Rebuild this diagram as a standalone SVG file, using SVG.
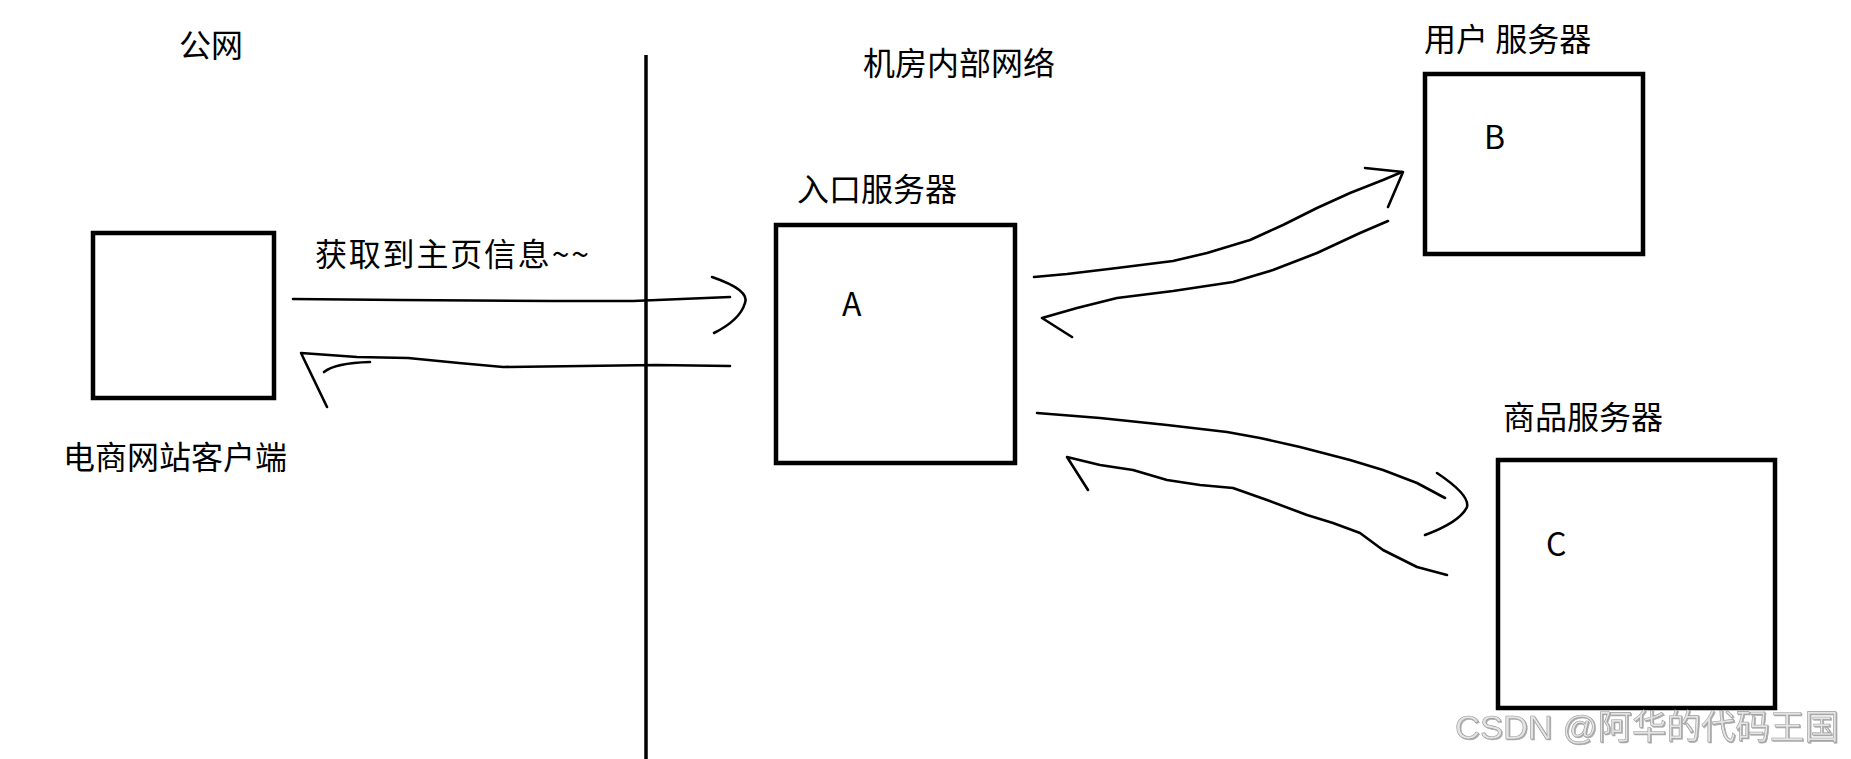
<svg xmlns="http://www.w3.org/2000/svg" width="1851" height="759" viewBox="0 0 1851 759">
<defs>
<style>
.t{font-family:"Noto Sans CJK SC","Liberation Sans",sans-serif;font-size:32px;fill:#000;}
.box{fill:#fff;stroke:#000;stroke-width:4.5;}
.c{fill:none;stroke:#000;stroke-width:2.6;stroke-linecap:round;stroke-linejoin:round;}
.wm{font-family:"Liberation Sans","Noto Sans CJK SC",sans-serif;font-size:34px;fill:#e4e4e4;stroke:#9a9a9a;stroke-width:0.6;}
</style>
<filter id="sh" x="-5%" y="-20%" width="110%" height="140%"><feDropShadow dx="1" dy="1" stdDeviation="0.6" flood-color="#888" flood-opacity="0.7"/></filter>
</defs>
<rect width="1851" height="759" fill="#fff"/>
<g id="divider"><line x1="646" y1="55" x2="646" y2="759" stroke="#000" stroke-width="3.5"/></g>
<g id="label-public"><text class="t" x="179" y="57">公网</text></g>
<g id="label-internal"><text class="t" x="863" y="75">机房内部网络</text></g>
<g id="client"><rect class="box" x="93" y="233" width="181" height="165"/><text class="t" x="63" y="469">电商网站客户端</text></g>
<g id="serverA"><text class="t" x="797" y="201">入口服务器</text><rect class="box" x="776" y="225" width="239" height="238"/><text class="t" x="842" y="316">A</text></g>
<g id="serverB"><text class="t" x="1424" y="51">用户 服务器</text><rect class="box" x="1425" y="74" width="218" height="180"/><text class="t" x="1484" y="149">B</text></g>
<g id="serverC"><text class="t" x="1503" y="429">商品服务器</text><rect class="box" x="1498" y="460" width="277" height="248"/><text class="t" x="1546" y="556">C</text></g>
<g id="connectors">
<text class="t" x="315" y="266" textLength="274">获取到主页信息~~</text>
<path class="c" d="M293,299 L400,300 L551,301 L633,301 L730,297"/>
<path class="c" d="M712,277 Q750,290 745,303 Q740,320 714,333"/>
<path class="c" d="M730,366 L656,365 L503,367 L459,363 L408,358 L357,357 L301,353 L327,407"/>
<path class="c" d="M324,372 Q335,363 370,362"/>
<path class="c" d="M1034,277 L1067,274 L1117,268 L1173,261 L1207,253 L1250,240 L1283,225 L1317,208 L1350,193 L1383,180 L1402,172"/>
<path class="c" d="M1365,168 L1403,172 L1388,207"/>
<path class="c" d="M1388,221 L1360,233 L1317,253 L1273,270 L1233,282 L1173,291 L1117,298 L1077,308 L1042,318 L1072,337"/>
<path class="c" d="M1037,413 L1100,418 L1167,425 L1227,432 L1260,438 L1300,447 L1350,460 L1383,470 L1417,483 L1445,498"/>
<path class="c" d="M1437,473 Q1470,495 1467,507 Q1460,522 1425,535"/>
<path class="c" d="M1447,575 L1417,567 L1383,550 L1360,533 L1333,523 L1307,515 L1267,500 L1233,488 L1200,485 L1167,480 L1133,470 L1100,465 L1067,457 L1088,490"/>
</g>
<g id="watermark"><text class="wm" x="1455" y="739" textLength="384" lengthAdjust="spacingAndGlyphs" filter="url(#sh)">CSDN @阿华的代码王国</text></g>
</svg>
